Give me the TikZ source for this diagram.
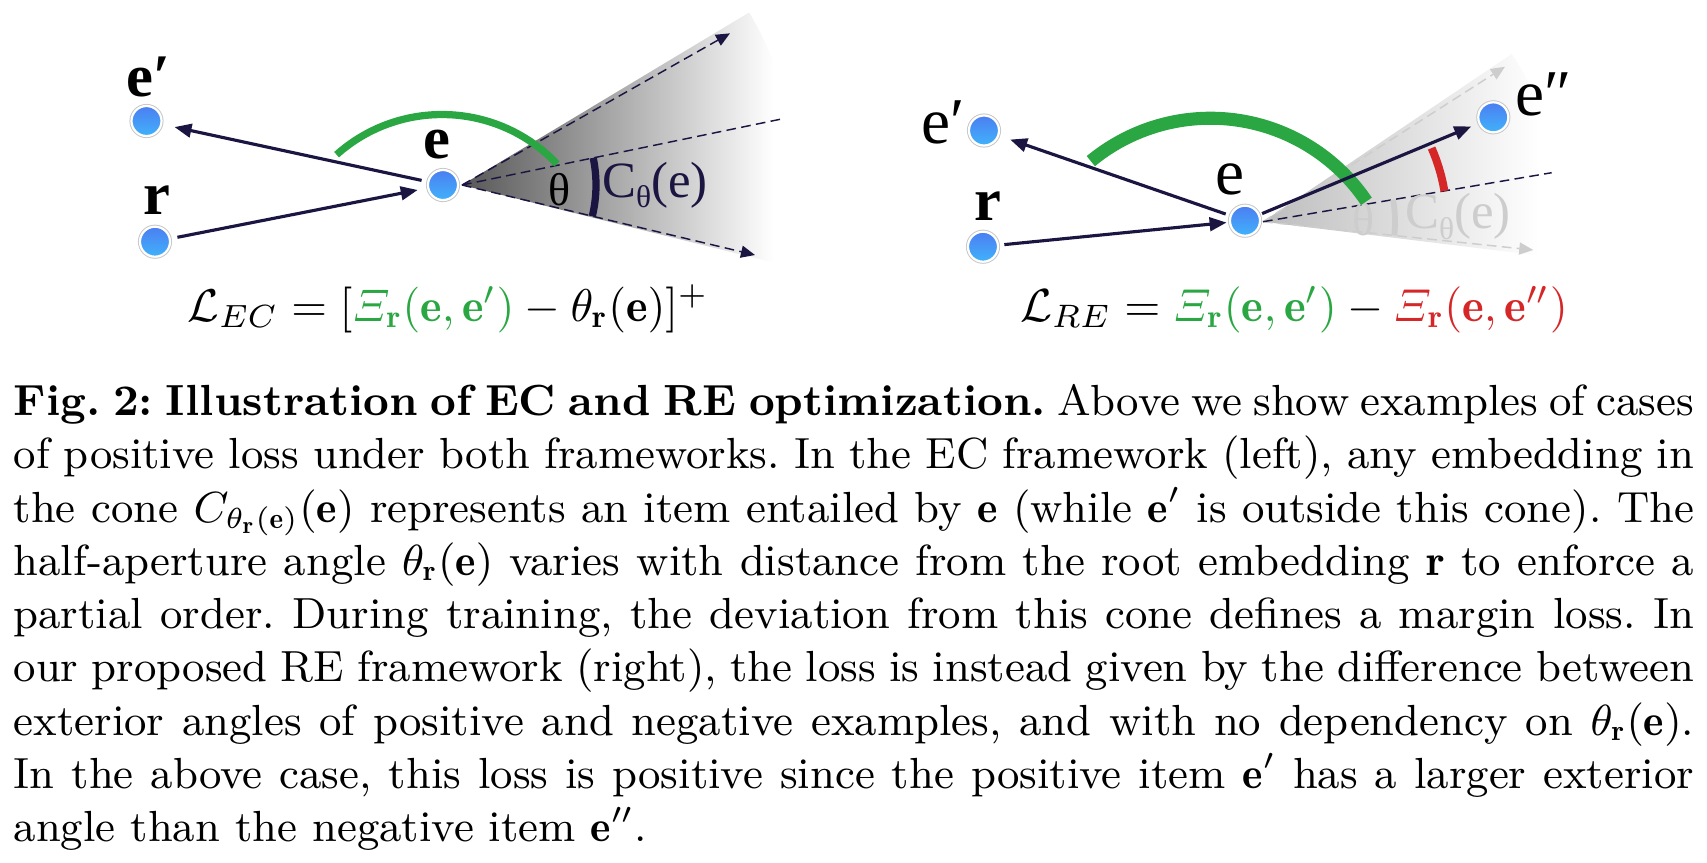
\RequirePackage{fix-cm}
\documentclass[tikz,border=0pt]{standalone}
\usepackage{fontspec}
\usepackage{amsmath}
\usepackage{graphicx}
\usetikzlibrary{arrows.meta}
\newfontfamily\tnr{Liberation Serif}
\definecolor{navy}{RGB}{27,21,66}
\definecolor{grn}{RGB}{42,167,66}
\definecolor{rd}{RGB}{214,39,40}
\definecolor{faint}{RGB}{205,205,205}
\definecolor{dottop}{RGB}{76,126,242}
\definecolor{dotbot}{RGB}{64,178,250}
\pgfdeclarehorizontalshading{conefadeL}{100bp}{color(0bp)=(black!66); color(25bp)=(black!66); color(70bp)=(white); color(100bp)=(white)}
\pgfdeclarehorizontalshading{conefadeR}{100bp}{color(0bp)=(black!26); color(25bp)=(black!26); color(70bp)=(white); color(100bp)=(white)}
\begin{document}
\begin{tikzpicture}[x=0.2066pt,y=-0.2066pt,
  dot/.style={circle,inner sep=0pt,minimum size=6.2pt,top color=dottop,bottom color=dotbot,draw=white,line width=0.45pt,preaction={draw=black!22,line width=0.85pt}},
  lbl/.style={inner sep=0pt,anchor=base west,font=\tnr\bfseries\fontsize{12.5}{15}\selectfont},
  lblr/.style={inner sep=0pt,anchor=base west,font=\tnr\fontsize{13.5}{15}\selectfont},
  arr/.style={navy,line width=0.65pt,-{Triangle[length=3.5pt,width=2.8pt]}},
  conel/.style={line width=0.3pt,dash pattern=on 2pt off 1.1pt},
  conetip/.style={-{Triangle[length=2.9pt,width=2.5pt]}},
  thlbl/.style={inner sep=0pt,font=\tnr\fontsize{9.5}{11}\selectfont},
  clbl/.style={inner sep=0pt,font=\tnr\fontsize{10.5}{12}\selectfont},
]
\path[use as bounding box] (0,0) rectangle (1707,862);

% ---------- left panel ----------
\coordinate (a1) at (462,185);
\coordinate (u1) at (730,33.3);
\coordinate (l1) at (755,255);
\coordinate (m1) at (780,119.3);
\shade[shading=conefadeL] (a1) -- ++(-31:335) arc[start angle=-31,end angle=14,radius=335] -- cycle;
\draw[navy,conel,conetip] (a1) -- (u1);
\draw[navy,conel,conetip] (a1) -- (l1);
\draw[navy,conel] (a1) -- (m1);
\draw[navy,line width=1.5pt] (a1) ++(13.5:134) arc[start angle=13.5,end angle=-11.7,radius=134];
\node[thlbl] (th1) at (560,190) {θ};
\node[clbl,text=navy] (c1) at (655,185) {C\raisebox{-0.45ex}{\fontsize{6.5}{7}\selectfont θ}(e)};
\draw[grn,line width=1.5pt] (442,273) ++(-131.7:158.5) arc[start angle=-131.7,end angle=-43.5,radius=158.5];

\node[dot] (ep1) at (146.5,121) {};
\node[dot] (r1) at (155,241.7) {};
\node[dot] (e1) at (443,185) {};
\draw[arr,shorten <=1.2pt,shorten >=2.6pt] (e1) -- (ep1);
\draw[arr,shorten <=1.4pt,shorten >=2pt] (r1) -- (e1);
\node[lbl] (Lep1) at (126,96) {e′};
\node[lbl,anchor=base] (Lr1) at (157,214) {r};
\node[lbl,anchor=base] (Le1) at (437.3,158.3) {e};

\node[anchor=base,inner sep=0pt] (f1) at (448,321) {\resizebox{107.7pt}{!}{$\mathcal{L}_{EC} = [\textcolor{grn}{\varXi_{\mathbf{r}}(\mathbf{e},\mathbf{e}')} - \theta_{\mathbf{r}}(\mathbf{e})]^{+}$}};

% ---------- right panel ----------
\coordinate (a2) at (1263,221.7);
\coordinate (u2) at (1505,66.7);
\coordinate (l2) at (1533.3,250);
\coordinate (m2) at (1551.7,172.7);
\shade[shading=conefadeR] (a2) -- ++(-34:300) arc[start angle=-34,end angle=7,radius=300] -- cycle;
\draw[faint,conel,conetip] (a2) -- (u2);
\draw[faint,conel,conetip] (a2) -- (l2);
\draw[navy,conel] (a2) -- (m2);
\draw[faint,line width=1.2pt] (a2) ++(6:132) arc[start angle=6,end angle=-9.6,radius=132];
\node[thlbl,text=faint] (th2) at (1363.3,220) {θ};
\node[clbl,text=faint] (c2) at (1458,216.7) {C\raisebox{-0.45ex}{\fontsize{6.5}{7}\selectfont θ}(e)};
\draw[grn,line width=2.7pt] (1210.4,306.2) ++(-129.5:188) arc[start angle=-129.5,end angle=-33.9,radius=188];
\draw[rd,line width=1.65pt] (a2) ++(-9.6:184) arc[start angle=-9.6,end angle=-23.6,radius=184];

\node[dot] (ep2) at (984,130.5) {};
\node[dot] (r2) at (983,246.7) {};
\node[dot] (e2) at (1245,220.7) {};
\node[dot] (epp2) at (1493.3,117.3) {};
\draw[arr,shorten <=0.9pt,shorten >=2.4pt] (e2) -- (ep2);
\draw[arr,shorten <=1.1pt,shorten >=0.5pt] (r2) -- (e2);
\draw[arr,shorten <=0.5pt,shorten >=1.6pt] (e2) -- (epp2);
\node[lblr] (Lep2) at (921,143) {e′};
\node[lbl,anchor=base] (Lr2) at (988.4,220) {r};
\node[lblr,anchor=base] (Le2) at (1230,194) {e};
\node[lblr] (Lepp2) at (1515,115) {e″};

\node[anchor=base,inner sep=0pt] (f2) at (1294,321) {\resizebox{113.2pt}{!}{$\mathcal{L}_{RE} = \textcolor{grn}{\varXi_{\mathbf{r}}(\mathbf{e},\mathbf{e}')} - \textcolor{rd}{\varXi_{\mathbf{r}}(\mathbf{e},\mathbf{e}'')}$}};

% ---------- caption ----------
\node[anchor=base west,inner sep=0pt,text width=347.2pt,align=justify,font=\small\frenchspacing] (cap) at (12.7,415.7) {%
\leavevmode\hbox to\linewidth{\textbf{Fig.~2: Illustration of EC and RE optimization.} Above we show examples of cases}\linebreak
of positive loss under both frameworks. In the EC framework (left), any embedding in\linebreak
the cone $C_{\theta_{\mathbf{r}}(\mathbf{e})}(\mathbf{e})$ represents an item entailed by $\mathbf{e}$ (while $\mathbf{e}'$ is outside this cone). The\linebreak
half-aperture angle $\theta_{\mathbf{r}}(\mathbf{e})$ varies with distance from the root embedding $\mathbf{r}$ to enforce a\linebreak
partial order. During training, the deviation from this cone defines a margin loss. In\linebreak
our proposed RE framework (right), the loss is instead given by the difference between\linebreak
exterior angles of positive and negative examples, and with no dependency on $\theta_{\mathbf{r}}(\mathbf{e})$.\linebreak
In the above case, this loss is positive since the positive item $\mathbf{e}'$ has a larger exterior\linebreak
angle than the negative item $\mathbf{e}''$.};
\end{tikzpicture}
\end{document}
